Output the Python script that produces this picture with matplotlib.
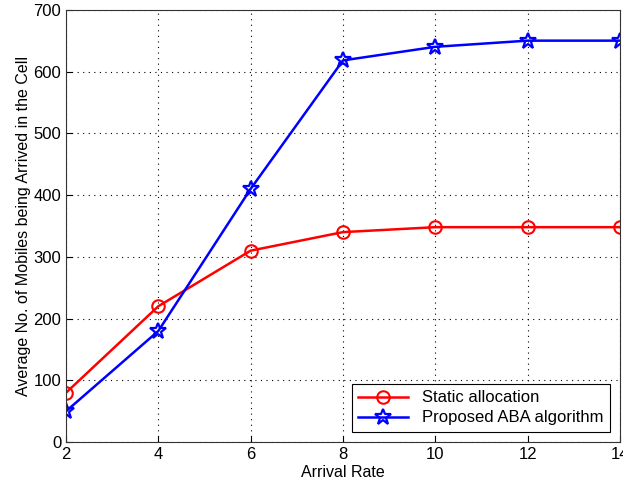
import matplotlib
matplotlib.use('Agg')
import matplotlib.pyplot as plt

# данные
arrival_rate = [2, 4, 6, 8, 10, 12, 14]
static_alloc = [80, 220, 310, 340, 348, 348, 348]
proposed_aba = [50, 180, 410, 618, 640, 650, 650]

plt.rcParams['font.family'] = ['Liberation Sans', 'DejaVu Sans']

fig = plt.figure(figsize=(6.23, 4.88), dpi=100)
ax = fig.add_axes([0.106, 0.094, 0.889, 0.886])

ax.plot(arrival_rate, static_alloc, color='red', marker='o', markersize=9,
        markerfacecolor='none', markeredgewidth=1.5, linewidth=1.8,
        label='Static allocation')
ax.plot(arrival_rate, proposed_aba, color='blue', marker='*', markersize=12,
        markerfacecolor='none', markeredgewidth=1.6, linewidth=1.8,
        label='Proposed ABA algorithm')

ax.set_xlim(2, 14)
ax.set_ylim(0, 700)
ax.set_xticks(arrival_rate)
ax.set_yticks(range(0, 701, 100))
ax.tick_params(direction='in', labelsize=12, length=4)
ax.grid(True, linestyle=(0, (1, 4)), color='black', linewidth=0.8)
for s in ax.spines.values():
    s.set_color('#333333')

ax.set_xlabel('Arrival Rate', fontsize=11.5, labelpad=2)
ax.set_ylabel('Average No. of Mobiles being Arrived in the Cell', fontsize=11.5, labelpad=2)

leg = ax.legend(loc='lower right', fontsize=12, fancybox=False, framealpha=1,
                edgecolor='black', borderaxespad=0.6, handlelength=3,
                labelspacing=0.3)
leg.get_frame().set_linewidth(0.8)

plt.savefig('out.png', dpi=100)
